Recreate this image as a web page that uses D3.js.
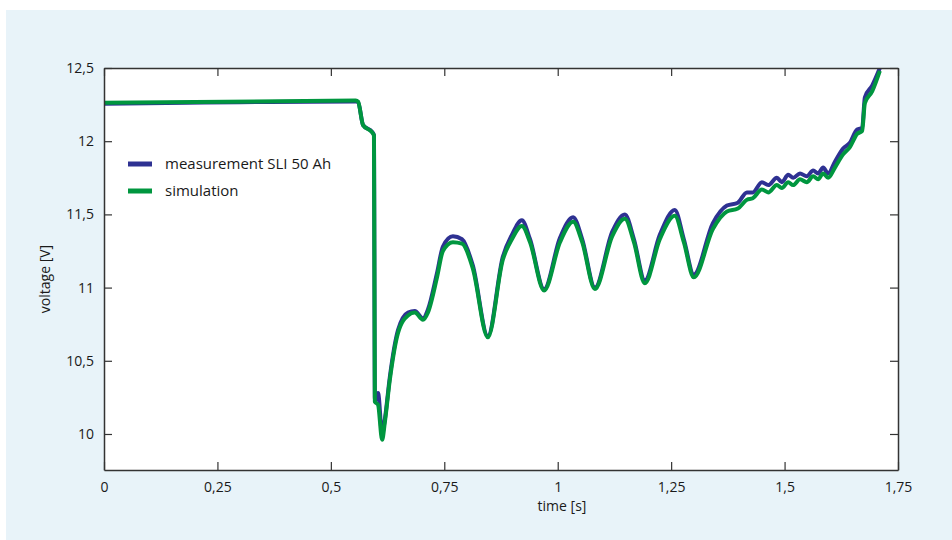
<!DOCTYPE html>
<html>
<head>
<meta charset="utf-8">
<script src="https://cdn.jsdelivr.net/npm/d3@7"></script>
<style>
  body { margin: 0; background: #fff; }
  svg { display: block; font-family: "Open Sans", "Noto Sans", sans-serif; }
</style>
</head>
<body>
<svg id="chart" width="952" height="540"></svg>
<script>
// time [s]
const times = [0, 0.555, 0.560, 0.571, 0.591, 0.595, 0.597, 0.604, 0.613, 0.619, 0.630, 0.648, 0.670, 0.685, 0.703, 0.714, 0.734, 0.747, 0.769, 0.789, 0.813, 0.846, 0.879, 0.899, 0.921, 0.939, 0.970, 1.005, 1.034, 1.054, 1.082, 1.120, 1.148, 1.168, 1.192, 1.225, 1.258, 1.278, 1.300, 1.342, 1.373, 1.397, 1.417, 1.430, 1.450, 1.464, 1.483, 1.494, 1.508, 1.519, 1.534, 1.549, 1.563, 1.574, 1.585, 1.596, 1.611, 1.629, 1.644, 1.660, 1.671, 1.677, 1.693, 1.710];

// voltage [V]
const measurement = [12.255, 12.272, 12.268, 12.11, 12.063, 12.04, 10.23, 10.28, 10.0, 10.10, 10.39, 10.71, 10.83, 10.84, 10.79, 10.85, 11.10, 11.28, 11.35, 11.33, 11.15, 10.67, 11.21, 11.36, 11.46, 11.33, 10.99, 11.34, 11.48, 11.33, 11.00, 11.38, 11.50, 11.33, 11.05, 11.36, 11.53, 11.33, 11.09, 11.44, 11.56, 11.58, 11.65, 11.65, 11.72, 11.70, 11.75, 11.72, 11.77, 11.75, 11.78, 11.76, 11.80, 11.78, 11.82, 11.78, 11.86, 11.95, 11.99, 12.08, 12.09, 12.30, 12.38, 12.50];
const simulation = [12.262, 12.278, 12.27, 12.11, 12.06, 12.04, 10.22, 10.20, 9.96, 10.08, 10.37, 10.69, 10.81, 10.83, 10.78, 10.83, 11.07, 11.25, 11.31, 11.30, 11.13, 10.66, 11.19, 11.33, 11.42, 11.31, 10.98, 11.31, 11.45, 11.31, 10.99, 11.35, 11.47, 11.31, 11.03, 11.33, 11.49, 11.31, 11.07, 11.40, 11.52, 11.54, 11.60, 11.61, 11.67, 11.65, 11.70, 11.68, 11.72, 11.70, 11.74, 11.72, 11.76, 11.74, 11.78, 11.75, 11.82, 11.91, 11.96, 12.05, 12.07, 12.26, 12.34, 12.48];

const xTicks = [0, 0.25, 0.5, 0.75, 1, 1.25, 1.5, 1.75];
const yTicks = [10, 10.5, 11, 11.5, 12, 12.5];
const seriesNames = ["measurement SLI 50 Ah", "simulation"];
const seriesColors = ["#2e3192", "#00963f"];

const margin = { top: 68, right: 54, bottom: 70, left: 104 };
const width = 952 - margin.left - margin.right;
const height = 540 - margin.top - margin.bottom;

const svg = d3.select("#chart");

// light blue panel
svg.append("rect")
	.attr("x", 6).attr("y", 10)
	.attr("width", 946).attr("height", 530)
	.attr("fill", "#e8f3f9");

const g = svg.append("g")
	.attr("transform", "translate(" + margin.left + "," + margin.top + ")");

g.append("rect")
	.attr("width", width).attr("height", height)
	.attr("fill", "#fff");

const x = d3.scaleLinear().domain([0, 1.75]).range([0, width]);
const y = d3.scaleLinear().domain([9.754, 12.5]).range([height, 0]);

const comma = d => String(d).replace(".", ",");

g.append("clipPath").attr("id", "clip")
	.append("rect").attr("width", width).attr("height", height);

const line = d3.line()
	.x((d, i) => x(times[i]))
	.y(d => y(d))
	.curve(d3.curveMonotoneX);

[measurement, simulation].forEach(function(vals, k) {
	g.append("path")
		.datum(vals)
		.attr("clip-path", "url(#clip)")
		.attr("fill", "none")
		.attr("stroke", seriesColors[k])
		.attr("stroke-width", 4)
		.attr("stroke-linejoin", "round")
		.attr("d", line);
});

// axes, ticks pointing inward on all four sides
const tickLen = 8;
g.append("g")
	.attr("transform", "translate(0," + height + ")")
	.call(d3.axisBottom(x).tickValues(xTicks).tickFormat(comma).tickSizeInner(-tickLen).tickSizeOuter(0).tickPadding(12));
g.append("g")
	.call(d3.axisTop(x).tickValues(xTicks).tickFormat("").tickSizeInner(-tickLen).tickSizeOuter(0));
g.append("g")
	.call(d3.axisLeft(y).tickValues(yTicks).tickFormat(comma).tickSizeInner(-tickLen).tickSizeOuter(0).tickPadding(10));
g.append("g")
	.attr("transform", "translate(" + width + ",0)")
	.call(d3.axisRight(y).tickValues(yTicks).tickFormat("").tickSizeInner(-tickLen).tickSizeOuter(0));

g.selectAll(".domain").attr("stroke", "#333").attr("stroke-width", 1.5);
g.selectAll(".tick line").attr("stroke", "#333").attr("stroke-width", 1.2);
g.selectAll(".tick text").attr("font-size", 14).attr("fill", "#1a1a1a")
	.attr("font-family", "'Open Sans', 'Noto Sans', sans-serif");

// axis titles
svg.append("text")
	.attr("x", 562).attr("y", 511)
	.attr("text-anchor", "middle")
	.attr("font-size", 14).attr("fill", "#1a1a1a")
	.text("time [s]");
svg.append("text")
	.attr("transform", "translate(50,279) rotate(-90)")
	.attr("text-anchor", "middle")
	.attr("font-size", 14).attr("fill", "#1a1a1a")
	.text("voltage [V]");

// legend
const legend = svg.append("g").attr("transform", "translate(128,164)");
seriesNames.forEach(function(name, k) {
	const row = legend.append("g").attr("transform", "translate(0," + (k * 27) + ")");
	row.append("line")
		.attr("x1", 0).attr("x2", 24)
		.attr("stroke", seriesColors[k]).attr("stroke-width", 5);
	row.append("text")
		.attr("x", 37).attr("dy", "0.35em")
		.attr("font-size", 15).attr("fill", "#1a1a1a")
		.text(name);
});
</script>
</body>
</html>
